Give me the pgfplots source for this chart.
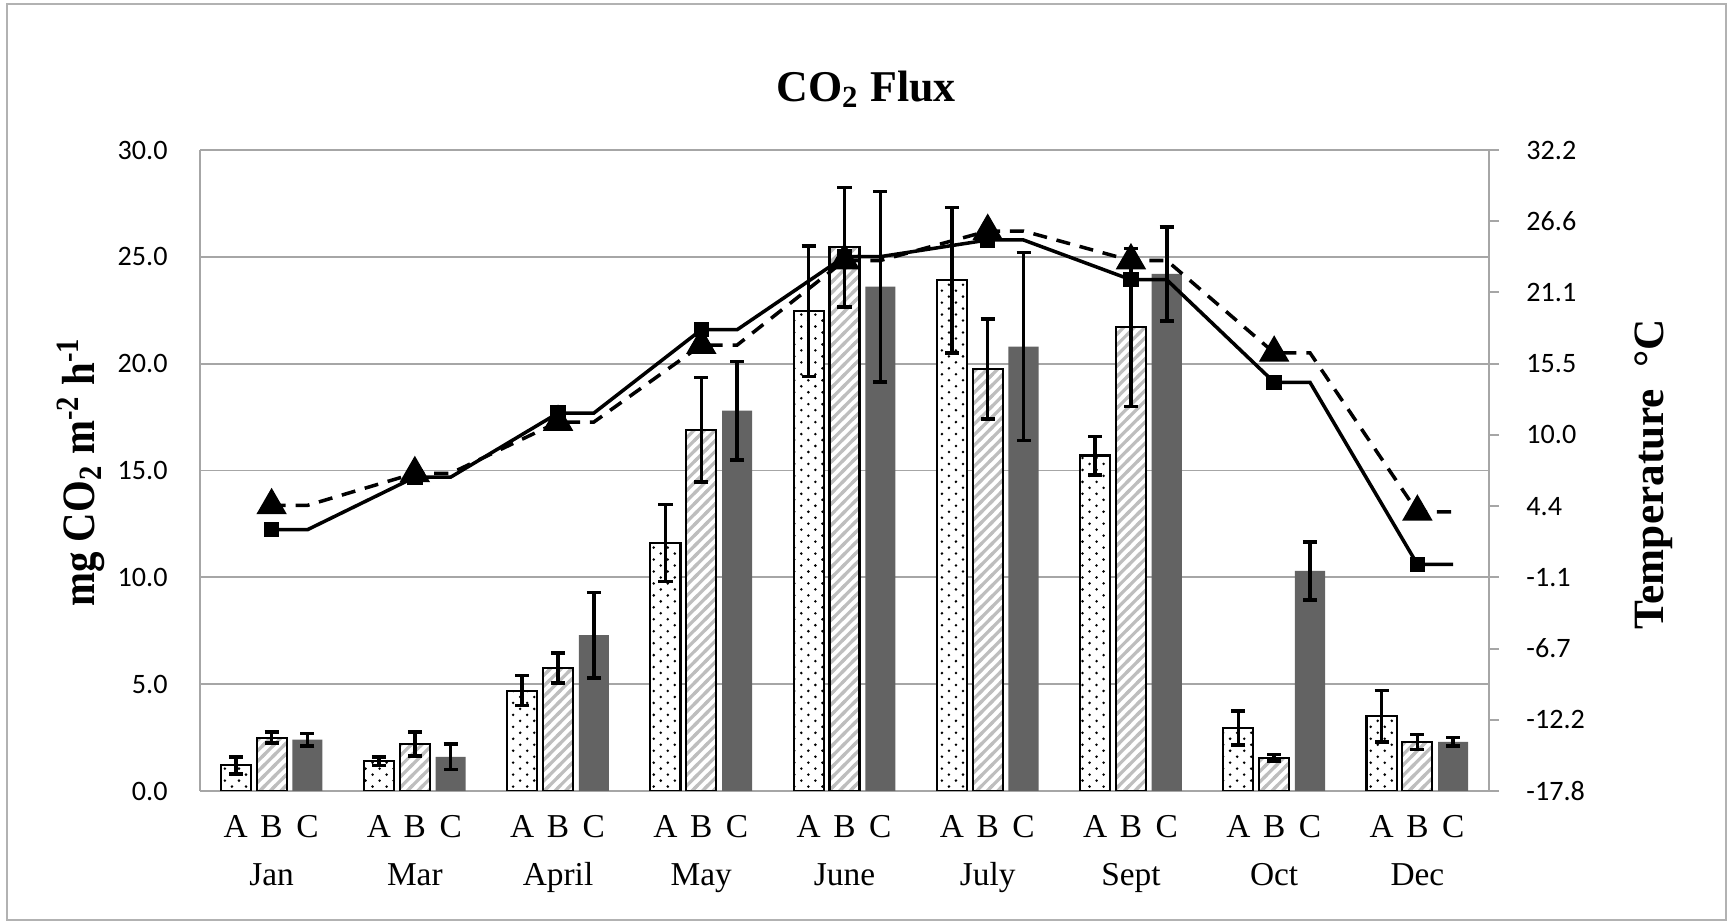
\documentclass[border=0pt]{standalone}
\usepackage{pgfplots}
\usepackage{pgfplotstable}
\pgfplotsset{compat=1.18}
\usepackage{fontspec}
\setmainfont{Liberation Serif}
\newfontfamily\calib{Carlito}
\usetikzlibrary{patterns}

\definecolor{barC}{RGB}{99,99,99}
\definecolor{gridc}{RGB}{166,166,166}
\definecolor{hatch}{RGB}{190,190,190}

% sparse staggered dots for series A
\pgfdeclarepatternformonly{sparsedots}{\pgfqpoint{-1pt}{-1pt}}{\pgfqpoint{5pt}{4.4pt}}{\pgfqpoint{4pt}{3.4pt}}{%
  \pgfpathcircle{\pgfqpoint{0pt}{0pt}}{0.4pt}%
  \pgfpathcircle{\pgfqpoint{2pt}{1.7pt}}{0.4pt}%
  \pgfusepath{fill}}
% thick diagonal stripes for series B
\pgfdeclarepatternformonly{thickne}{\pgfqpoint{-1pt}{-1pt}}{\pgfqpoint{4pt}{4pt}}{\pgfqpoint{3pt}{3pt}}{%
  \pgfsetlinewidth{0.9pt}%
  \pgfpathmoveto{\pgfqpoint{-0.5pt}{-0.5pt}}%
  \pgfpathlineto{\pgfqpoint{3.5pt}{3.5pt}}%
  \pgfusepath{stroke}}

% month index, mean and error of A, B, C
\pgfplotstableread{
x  a     aerr  b     berr  c     cerr
0  1.2   0.4   2.5   0.25  2.4   0.3
1  1.4   0.2   2.2   0.55  1.6   0.6
2  4.7   0.7   5.75  0.7   7.3   2.0
3  11.6  1.8   16.9  2.45  17.8  2.3
4  22.45 3.05  25.45 2.8   23.6  4.45
5  23.9  3.4   19.75 2.35  20.8  4.4
6  15.7  0.9   21.7  3.7   24.2  2.2
7  2.95  0.8   1.55  0.15  10.3  1.35
8  3.5   1.2   2.3   0.35  2.3   0.2
}\flux

% temperature lines, drawn from bar B to bar C of each month
\pgfplotstableread{
x     t1    t2
0     2.6   4.5
0.25  2.6   4.5
1     6.7   7.0
1.25  6.7   7.0
2     11.7  11.0
2.25  11.7  11.0
3     18.2  17.0
3.25  18.2  17.0
4     23.9  23.6
4.25  23.9  23.6
5     25.2  25.9
5.25  25.2  25.9
6     22.1  23.6
6.25  22.1  23.6
7     14.1  16.4
7.25  14.1  16.4
8     -0.1  4.0
8.25  -0.1  4.0
}\temps

\begin{document}
\begin{tikzpicture}
\useasboundingbox (0,0) rectangle (17.32,9.24);
\draw[gray!60, line width=0.8pt] (0.07,0.04) rectangle (17.26,9.20);

\pgfplotsset{
  every axis/.append style={
    width=12.89cm, height=6.41cm, scale only axis,
    at={(2.00cm,1.33cm)}, anchor=south west,
    xmin=-0.5, xmax=8.5,
    tick label style={font=\calib\fontsize{8}{9.5}\selectfont},
    /pgf/number format/assume math mode=true,
  },
}

\begin{axis}[
  ymin=0, ymax=30,
  ytick={0,5,...,30},
  yticklabel={\pgfmathprintnumber[fixed,fixed zerofill,precision=1]{\tick}},
  yticklabel style={xshift=-0.2cm},
  ymajorgrids, grid style={gridc, line width=0.5pt},
  axis lines*=left,
  axis line style={gridc, line width=0.6pt},
  ytick style={draw=none}, xtick style={draw=none},
  xtick={-0.25,0,0.25,0.75,1,1.25,1.75,2,2.25,2.75,3,3.25,3.75,4,4.25,4.75,5,5.25,5.75,6,6.25,6.75,7,7.25,7.75,8,8.25},
  xticklabels={A,{B\\[2.7pt]Jan},C,A,{B\\[2.7pt]Mar},C,A,{B\\[2.7pt]April},C,
    A,{B\\[2.7pt]May},C,A,{B\\[2.7pt]June},C,A,{B\\[2.7pt]July},C,
    A,{B\\[2.7pt]Sept},C,A,{B\\[2.7pt]Oct},C,A,{B\\[2.7pt]Dec},C},
  xticklabel style={font=\fontsize{9.5}{11}\selectfont, align=center, yshift=0.03cm},
  ybar, bar width=0.21,
  error bars/y dir=both, error bars/y explicit,
  error bars/error bar style={black, line width=1pt, solid},
  error bars/error mark options={rotate=90, mark size=2pt, black, line width=1pt},
]
\addplot[bar shift=-0.25, draw=black, line width=0.6pt, fill=white,
  postaction={pattern=sparsedots, pattern color=black}]
  table[x=x, y=a, y error=aerr] {\flux};
\addplot[bar shift=0, draw=black, line width=0.6pt, fill=white,
  postaction={pattern=thickne, pattern color=hatch}]
  table[x=x, y=b, y error=berr] {\flux};
\addplot[bar shift=0.25, draw=none, fill=barC]
  table[x=x, y=c, y error=cerr] {\flux};
\end{axis}

\begin{axis}[
  ymin=-17.78, ymax=32.22,
  axis y line*=right, axis x line=none,
  axis line style={gridc, line width=0.6pt},
  ytick={-17.78,-12.22,-6.67,-1.11,4.44,10,15.56,21.11,26.67,32.22},
  yticklabels={-17.8,-12.2,-6.7,-1.1,4.4,10.0,15.5,21.1,26.6,32.2},
  ytick style={gridc, line width=0.6pt},
  tick align=outside, major tick length=0.1cm,
  yticklabel style={xshift=0.15cm},
]
\addplot[black, line width=1.0pt, mark=square*, mark size=1.7pt, mark repeat=2]
  table[x=x, y=t1] {\temps};
\addplot[black, line width=1.0pt, dash pattern=on 4pt off 2.8pt,
  mark=triangle*, mark size=4pt, mark repeat=2, mark options={solid}]
  table[x=x, y=t2] {\temps};
\end{axis}

\node[font=\bfseries\fontsize{12.5}{14}\selectfont] at (8.66,8.35) {CO\textsubscript{2} Flux};
\node[rotate=90, font=\bfseries\fontsize{13.2}{15}\selectfont] at (0.81,4.52)
  {\scalebox{0.88}[1]{mg CO\textsubscript{2} m\textsuperscript{-2} h\textsuperscript{-1}}};
\node[rotate=90, font=\bfseries\fontsize{12.3}{14}\selectfont] at (16.54,4.50)
  {Temperature~~°C};
\end{tikzpicture}
\end{document}
